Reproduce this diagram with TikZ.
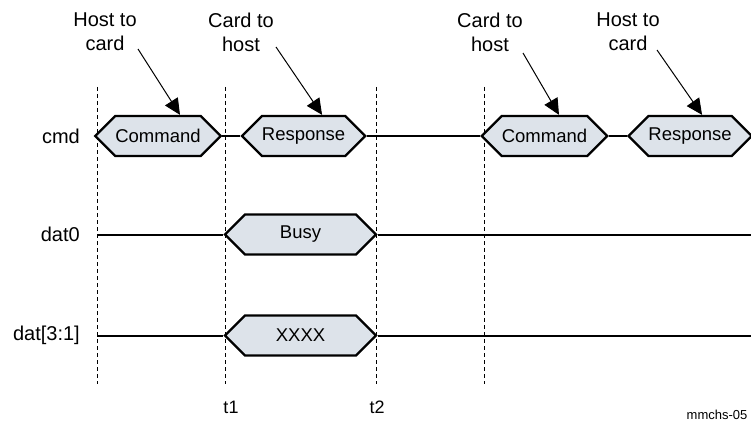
\documentclass[tikz,border=0pt]{standalone}
\usepackage{fontspec}
\setmainfont{Liberation Sans}
\usepackage{tikz}
\usetikzlibrary{arrows.meta,positioning,shapes.symbols}

\definecolor{pktfill}{RGB}{221,227,234}

\begin{document}
\begin{tikzpicture}[
  x=1pt, y=-1pt,
  node distance=18pt,
  pkt/.style={draw, line width=2.3pt, fill=pktfill, signal, signal to=west and east,
              signal pointer angle=90, minimum height=40pt, inner sep=0pt,
              font=\fontsize{18.5}{22}\selectfont},
  sig/.style={anchor=east, inner sep=0pt, font=\fontsize{20}{24}\selectfont},
  lbl/.style={align=center, inner sep=0pt, font=\fontsize{20}{24}\selectfont},
  wire/.style={line width=2pt},
  guide/.style={line width=1pt, dash pattern=on 4pt off 3pt},
  ptr/.style={-{Triangle[length=16pt,width=15pt]}, line width=1pt}
]
\useasboundingbox (0,0) rectangle (751,441);

% time guides
\foreach \gx in {97,225,376,484}
  \draw[guide] (\gx,87) -- (\gx,384);

% signal names
\node[sig] (cmd)   at (80,136)   {cmd};
\node[sig] (dat0)  at (80,234.5) {dat0};
\node[sig] (dat31) at (80,335.5) {dat[3:1]};

% cmd line
\node[pkt, minimum width=122pt] (cmdA) at (158,136) {Command};
\node[pkt, minimum width=121pt, right=of cmdA] (respA) {Response};
\node[pkt, minimum width=121pt] (cmdB) at (544.5,136) {Command};
\node[pkt, minimum width=122pt, right=of cmdB] (respB) {Response};
\coordinate (cmdEnd) at (751,136);

\draw[wire] (cmdA.east)  -- (respA.west);
\draw[wire] (respA.east) -- (cmdB.west);
\draw[wire] (cmdB.east)  -- (respB.west);
\draw[wire] (respB.east) -- (cmdEnd);

% data lines
\node[pkt, minimum width=151pt] (busy) at (300.5,234.5) {Busy};
\node[pkt, minimum width=151pt] (xxxx) at (300.5,335.5) {XXXX};
\coordinate (d0Start)  at (97,234.5);
\coordinate (d0End)    at (751,234.5);
\coordinate (d31Start) at (97,335.5);
\coordinate (d31End)   at (751,335.5);

\draw[wire] (d0Start)  -- (busy.west);
\draw[wire] (busy.east) -- (d0End);
\draw[wire] (d31Start) -- (xxxx.west);
\draw[wire] (xxxx.east) -- (d31End);

% direction labels
\node[lbl] (hcA) at (105,32) {Host to\\card};
\node[lbl] (chA) at (241,32) {Card to\\host};
\node[lbl] (chB) at (490,32) {Card to\\host};
\node[lbl] (hcB) at (628,32) {Host to\\card};
\coordinate (hcAtail) at (138,49);
\coordinate (chAtail) at (276,47);
\coordinate (chBtail) at (523,53);
\coordinate (hcBtail) at (657,50);

\draw[ptr] (hcAtail) -- ([xshift=22pt]cmdA.north);
\draw[ptr] (chAtail) -- ([xshift=18.5pt]respA.north);
\draw[ptr] (chBtail) -- ([xshift=14.5pt]cmdB.north);
\draw[ptr] (hcBtail) -- ([xshift=12pt]respB.north);

% times
\node[font=\fontsize{18}{21}\selectfont] (t1) at (231,407) {t1};
\node[font=\fontsize{18}{21}\selectfont] (t2) at (377,407) {t2};
\node[font=\fontsize{13}{15}\selectfont] (fig) at (717,415) {mmchs-05};
\end{tikzpicture}
\end{document}
